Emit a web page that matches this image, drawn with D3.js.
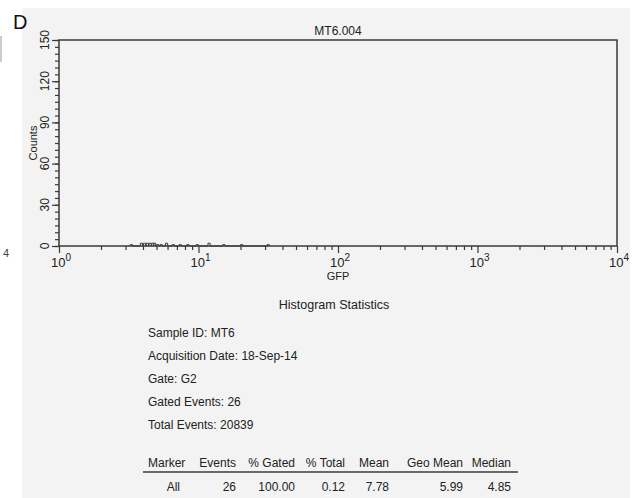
<!DOCTYPE html>
<html>
<head>
<meta charset="utf-8">
<script src="https://cdn.jsdelivr.net/npm/d3@7/dist/d3.min.js"></script>
<style>
  html, body { margin: 0; padding: 0; background: #ffffff; }
  svg { display: block; font-family: "Liberation Sans", Arial, Helvetica, sans-serif; }
</style>
</head>
<body>
<svg id="chart" width="639" height="498"></svg>
<script>
// GFP histogram channels (log scale) and event counts per channel
const gfpChannels = [3.3, 3.9, 4.1, 4.3, 4.5, 4.7, 4.85, 5.1, 5.4, 5.9, 6.6, 7.4, 8.4, 9.8, 11.9, 15.2, 20.4, 31.6];
const channelCounts = [1, 2, 2, 2, 2, 2, 2, 1, 1, 2, 1, 1, 1, 1, 2, 1, 1, 1];

const xDecades = [1, 10, 100, 1000, 10000];
const yMajorTicks = [0, 30, 60, 90, 120, 150];

const plotTitle = "MT6.004";
const xLabel = "GFP";
const yLabel = "Counts";

const infoLines = [
  "Sample ID: MT6",
  "Acquisition Date: 18-Sep-14",
  "Gate: G2",
  "Gated Events: 26",
  "Total Events: 20839"
];
const statHeaders = ["Marker", "Events", "% Gated", "% Total", "Mean", "Geo Mean", "Median"];
const statRow = ["All", "26", "100.00", "0.12", "7.78", "5.99", "4.85"];

const svg = d3.select("#chart");
const ink = "#3a3a3a";
const textInk = "#222";

// paper background
svg.append("rect").attr("x", 22).attr("y", 8).attr("width", 608).attr("height", 490)
  .attr("fill", "#f3f3f3");
svg.append("line").attr("x1", 1).attr("x2", 1).attr("y1", 36).attr("y2", 62)
  .attr("stroke", "#999").attr("stroke-width", 1);
svg.append("text").attr("x", 3).attr("y", 257).attr("font-size", 11).attr("fill", "#444").text("4");

// panel letter
svg.append("text").attr("x", 13).attr("y", 29).attr("font-size", 20).attr("fill", "#111").text("D");

const pLeft = 59, pRight = 617, pTop = 40, pBottom = 246;
const x = d3.scaleLog().domain([1, 10000]).range([pLeft, pRight]);
const y = d3.scaleLinear().domain([0, 150]).range([pBottom, pTop]);

// histogram as a step outline
const binW = 4 / 256;
const pts = [];
gfpChannels.forEach((v, i) => {
  const l = Math.log10(v) - binW / 2, r = Math.log10(v) + binW / 2;
  pts.push([Math.pow(10, l), 0], [Math.pow(10, l), channelCounts[i]],
           [Math.pow(10, r), channelCounts[i]], [Math.pow(10, r), 0]);
});
svg.append("path")
  .attr("d", d3.line().x(d => x(d[0])).y(d => y(d[1]))(pts))
  .attr("fill", "none").attr("stroke", ink).attr("stroke-width", 1);

// frame
svg.append("rect").attr("x", pLeft).attr("y", pTop)
  .attr("width", pRight - pLeft).attr("height", pBottom - pTop)
  .attr("fill", "none").attr("stroke", ink).attr("stroke-width", 1.5);

// x axis: decades plus minor ticks
const xMinor = [];
for (let d = 1; d < 10000; d *= 10) for (let k = 2; k <= 9; k++) xMinor.push(d * k);
const xAxis = svg.append("g").attr("transform", `translate(0,${pBottom})`);
xAxis.call(d3.axisBottom(x).tickValues(xMinor).tickSize(4).tickFormat(""));
xAxis.append("g").call(d3.axisBottom(x).tickValues(xDecades).tickSize(7).tickFormat(""));
xAxis.selectAll(".domain").remove();
xAxis.selectAll("line").attr("stroke", ink).attr("stroke-width", 1.2);

const xl = svg.append("g").selectAll("text").data(xDecades).join("text")
  .attr("x", d => x(d) + 2).attr("y", 267).attr("text-anchor", "middle")
  .attr("font-size", 13).attr("fill", textInk);
xl.append("tspan").text("10");
xl.append("tspan").attr("dy", -6).attr("font-size", 10).text(d => Math.round(Math.log10(d)));

svg.append("text").attr("x", (pLeft + pRight) / 2).attr("y", 280).attr("text-anchor", "middle")
  .attr("font-size", 11).attr("fill", textInk).text(xLabel);

// y axis: majors every 30, minors every 5
const yMinor = d3.range(0, 151, 5);
const yAxis = svg.append("g").attr("transform", `translate(${pLeft},0)`);
yAxis.call(d3.axisLeft(y).tickValues(yMinor).tickSize(4).tickFormat(""));
yAxis.append("g").call(d3.axisLeft(y).tickValues(yMajorTicks).tickSize(7).tickFormat(""));
yAxis.selectAll(".domain").remove();
yAxis.selectAll("line").attr("stroke", ink).attr("stroke-width", 1.2);

svg.append("g").selectAll("text").data(yMajorTicks).join("text")
  .attr("transform", d => `translate(49,${y(d)}) rotate(-90)`)
  .attr("text-anchor", "middle").attr("font-size", 12).attr("fill", textInk)
  .text(d => d);

svg.append("text").attr("transform", `translate(37,${(pTop + pBottom) / 2}) rotate(-90)`)
  .attr("text-anchor", "middle").attr("font-size", 11).attr("fill", textInk).text(yLabel);

// title
svg.append("text").attr("x", (pLeft + pRight) / 2).attr("y", 35).attr("text-anchor", "middle")
  .attr("font-size", 12).attr("fill", textInk).text(plotTitle);

// statistics block
svg.append("text").attr("x", 334).attr("y", 309).attr("text-anchor", "middle")
  .attr("font-size", 12.5).attr("fill", textInk).text("Histogram Statistics");

svg.append("g").selectAll("text").data(infoLines).join("text")
  .attr("x", 148).attr("y", (d, i) => 337 + i * 23)
  .attr("font-size", 12).attr("fill", textInk).text(d => d);

const colRight = [190, 236, 295, 345, 389, 463, 511];
svg.append("g").selectAll("text").data(statHeaders).join("text")
  .attr("x", (d, i) => i === 0 ? 148 : colRight[i]).attr("y", 467)
  .attr("text-anchor", (d, i) => i === 0 ? "start" : "end")
  .attr("font-size", 12).attr("fill", textInk).text(d => d);

svg.append("line").attr("x1", 143).attr("x2", 518).attr("y1", 472).attr("y2", 472)
  .attr("stroke", ink).attr("stroke-width", 1.5);

svg.append("g").selectAll("text").data(statRow).join("text")
  .attr("x", (d, i) => i === 0 ? 180 : colRight[i]).attr("y", 491)
  .attr("text-anchor", "end")
  .attr("font-size", 12).attr("fill", textInk).text(d => d);
</script>
</body>
</html>
